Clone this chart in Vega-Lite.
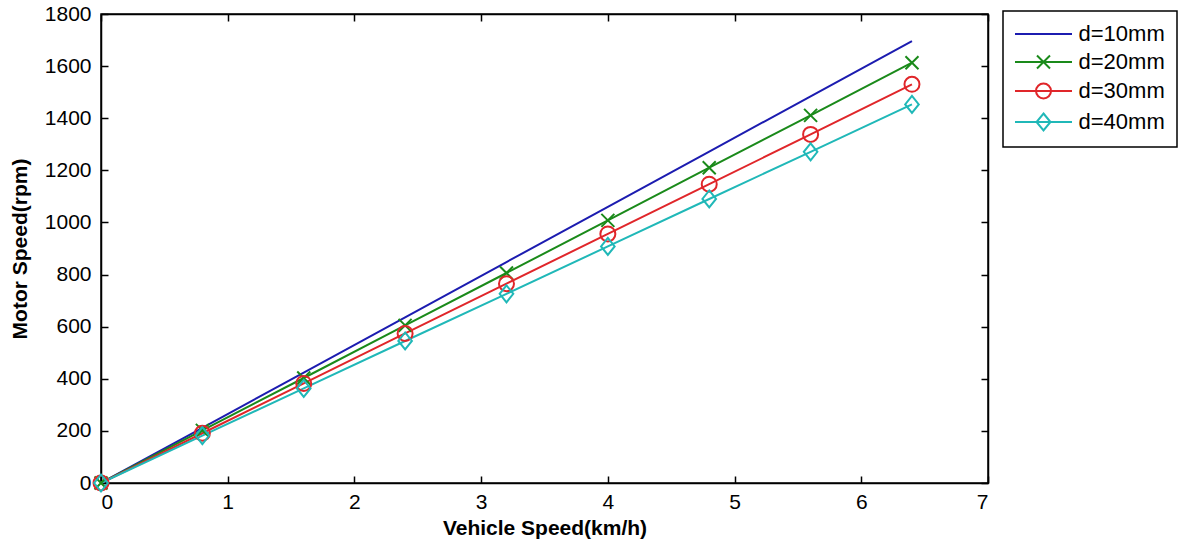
{
  "$schema": "https://vega.github.io/schema/vega-lite/v6.json",
  "width": 887,
  "height": 469,
  "autosize": "none",
  "padding": {"left": 101, "top": 14, "right": 195, "bottom": 59},
  "background": "white",
  "config": {
    "view": {"stroke": "black", "strokeWidth": 1.5},
    "axis": {
      "grid": false,
      "domainColor": "black",
      "domainWidth": 1.5,
      "tickColor": "black",
      "tickWidth": 1.5,
      "tickSize": -7,
      "labelFont": "Liberation Sans",
      "labelFontSize": 21,
      "labelColor": "black",
      "titleFont": "Liberation Sans",
      "titleFontSize": 21,
      "titleFontWeight": "bold",
      "titleColor": "black"
    },
    "legend": {
      "labelFont": "Liberation Sans",
      "labelFontSize": 22,
      "labelColor": "black",
      "symbolOpacity": 1,
      "strokeWidth": 1.5
    }
  },
  "data": {
    "values": [
      {"v": 0, "rpm": 0, "d": "d=10mm"},
      {"v": 0.8, "rpm": 212, "d": "d=10mm"},
      {"v": 1.6, "rpm": 424, "d": "d=10mm"},
      {"v": 2.4, "rpm": 636, "d": "d=10mm"},
      {"v": 3.2, "rpm": 848, "d": "d=10mm"},
      {"v": 4.0, "rpm": 1060, "d": "d=10mm"},
      {"v": 4.8, "rpm": 1272, "d": "d=10mm"},
      {"v": 5.6, "rpm": 1484, "d": "d=10mm"},
      {"v": 6.4, "rpm": 1696, "d": "d=10mm"},
      {"v": 0, "rpm": 0, "d": "d=20mm"},
      {"v": 0.8, "rpm": 202, "d": "d=20mm"},
      {"v": 1.6, "rpm": 403, "d": "d=20mm"},
      {"v": 2.4, "rpm": 605, "d": "d=20mm"},
      {"v": 3.2, "rpm": 806, "d": "d=20mm"},
      {"v": 4.0, "rpm": 1008, "d": "d=20mm"},
      {"v": 4.8, "rpm": 1210, "d": "d=20mm"},
      {"v": 5.6, "rpm": 1411, "d": "d=20mm"},
      {"v": 6.4, "rpm": 1613, "d": "d=20mm"},
      {"v": 0, "rpm": 0, "d": "d=30mm"},
      {"v": 0.8, "rpm": 191, "d": "d=30mm"},
      {"v": 1.6, "rpm": 382, "d": "d=30mm"},
      {"v": 2.4, "rpm": 574, "d": "d=30mm"},
      {"v": 3.2, "rpm": 765, "d": "d=30mm"},
      {"v": 4.0, "rpm": 956, "d": "d=30mm"},
      {"v": 4.8, "rpm": 1147, "d": "d=30mm"},
      {"v": 5.6, "rpm": 1338, "d": "d=30mm"},
      {"v": 6.4, "rpm": 1530, "d": "d=30mm"},
      {"v": 0, "rpm": 0, "d": "d=40mm"},
      {"v": 0.8, "rpm": 182, "d": "d=40mm"},
      {"v": 1.6, "rpm": 363, "d": "d=40mm"},
      {"v": 2.4, "rpm": 545, "d": "d=40mm"},
      {"v": 3.2, "rpm": 726, "d": "d=40mm"},
      {"v": 4.0, "rpm": 908, "d": "d=40mm"},
      {"v": 4.8, "rpm": 1090, "d": "d=40mm"},
      {"v": 5.6, "rpm": 1271, "d": "d=40mm"},
      {"v": 6.4, "rpm": 1453, "d": "d=40mm"}
    ]
  },
  "layer": [
    {
      "mark": {"type": "line", "strokeWidth": 2},
      "encoding": {
        "x": {"field": "v", "type": "quantitative", "scale": {"domain": [0, 7], "nice": false},
          "axis": {"orient": "bottom", "title": "Vehicle Speed(km/h)", "values": [0,1,2,3,4,5,6,7], "labelPadding": 15, "titlePadding": 5}},
        "y": {"field": "rpm", "type": "quantitative", "scale": {"domain": [0, 1800], "nice": false},
          "axis": {"orient": "left", "title": "Motor Speed(rpm)", "format": "d", "values": [0,200,400,600,800,1000,1200,1400,1600,1800], "labelPadding": 17, "titlePadding": 14}},
        "stroke": {"field": "d", "type": "nominal", "legend": null,
          "scale": {"domain": ["d=40mm", "d=30mm", "d=20mm", "d=10mm"], "range": ["#20b8b8", "#e0262a", "#1a8a1a", "#1c1cb0"]}}
      }
    },
    {
      "transform": [{"filter": "datum.d == 'd=20mm'"}],
      "mark": {"type": "point", "shape": "M-1,-1L1,1M-1,1L1,-1", "size": 169, "filled": false, "strokeWidth": 2, "color": "#1a8a1a", "opacity": 1},
      "encoding": {
        "x": {"field": "v", "type": "quantitative", "axis": null},
        "y": {"field": "rpm", "type": "quantitative", "axis": null}
      }
    },
    {
      "transform": [{"filter": "datum.d == 'd=30mm'"}],
      "mark": {"type": "point", "shape": "circle", "size": 225, "filled": false, "strokeWidth": 2, "color": "#e0262a", "opacity": 1},
      "encoding": {
        "x": {"field": "v", "type": "quantitative", "axis": null},
        "y": {"field": "rpm", "type": "quantitative", "axis": null}
      }
    },
    {
      "transform": [{"filter": "datum.d == 'd=40mm'"}],
      "mark": {"type": "point", "shape": "M0,-1L0.8,0L0,1L-0.8,0Z", "size": 289, "filled": false, "strokeWidth": 2, "color": "#20b8b8", "opacity": 1},
      "encoding": {
        "x": {"field": "v", "type": "quantitative", "axis": null},
        "y": {"field": "rpm", "type": "quantitative", "axis": null}
      }
    },
    {
      "mark": {"type": "point", "filled": false, "strokeWidth": 2, "opacity": 0},
      "encoding": {
        "x": {"field": "v", "type": "quantitative", "axis": null},
        "y": {"field": "rpm", "type": "quantitative", "axis": null},
        "color": {"field": "d", "type": "nominal",
          "scale": {"domain": ["d=10mm", "d=20mm", "d=30mm", "d=40mm"], "range": ["#1c1cb0", "#1a8a1a", "#e0262a", "#20b8b8"]},
          "legend": {"title": null, "orient": "none", "legendX": 902, "legendY": -3, "strokeColor": "black", "fillColor": "white", "padding": 12, "symbolSize": 400, "symbolStrokeWidth": 2, "symbolOffset": 17.5, "labelOffset": 24, "rowPadding": 6, "symbolOpacity": 1}},
        "shape": {"field": "d", "type": "nominal",
          "scale": {"domain": ["d=10mm", "d=20mm", "d=30mm", "d=40mm"],
            "range": ["M-2.85,0H2.85", "M-2.85,0H2.85M-0.65,-0.65L0.65,0.65M-0.65,0.65L0.65,-0.65", "M-2.85,0H2.85M0.75,0A0.75,0.75,0,1,1,-0.75,0A0.75,0.75,0,1,1,0.75,0", "M-2.85,0H2.85M0,-0.85L0.7,0L0,0.85L-0.7,0Z"]},
          "legend": {"title": null, "orient": "none", "legendX": 902, "legendY": -3, "strokeColor": "black", "fillColor": "white", "padding": 12, "symbolSize": 400, "symbolStrokeWidth": 2, "symbolOffset": 17.5, "labelOffset": 24, "rowPadding": 6, "symbolOpacity": 1}}
      }
    },
    {
      "mark": {"type": "point", "opacity": 0},
      "encoding": {
        "x": {"field": "v", "type": "quantitative",
          "axis": {"orient": "top", "title": null, "labels": false, "values": [0,1,2,3,4,5,6,7]}},
        "y": {"field": "rpm", "type": "quantitative",
          "axis": {"orient": "right", "title": null, "labels": false, "values": [0,200,400,600,800,1000,1200,1400,1600,1800]}}
      }
    }
  ],
  "resolve": {"axis": {"x": "independent", "y": "independent"}}
}
